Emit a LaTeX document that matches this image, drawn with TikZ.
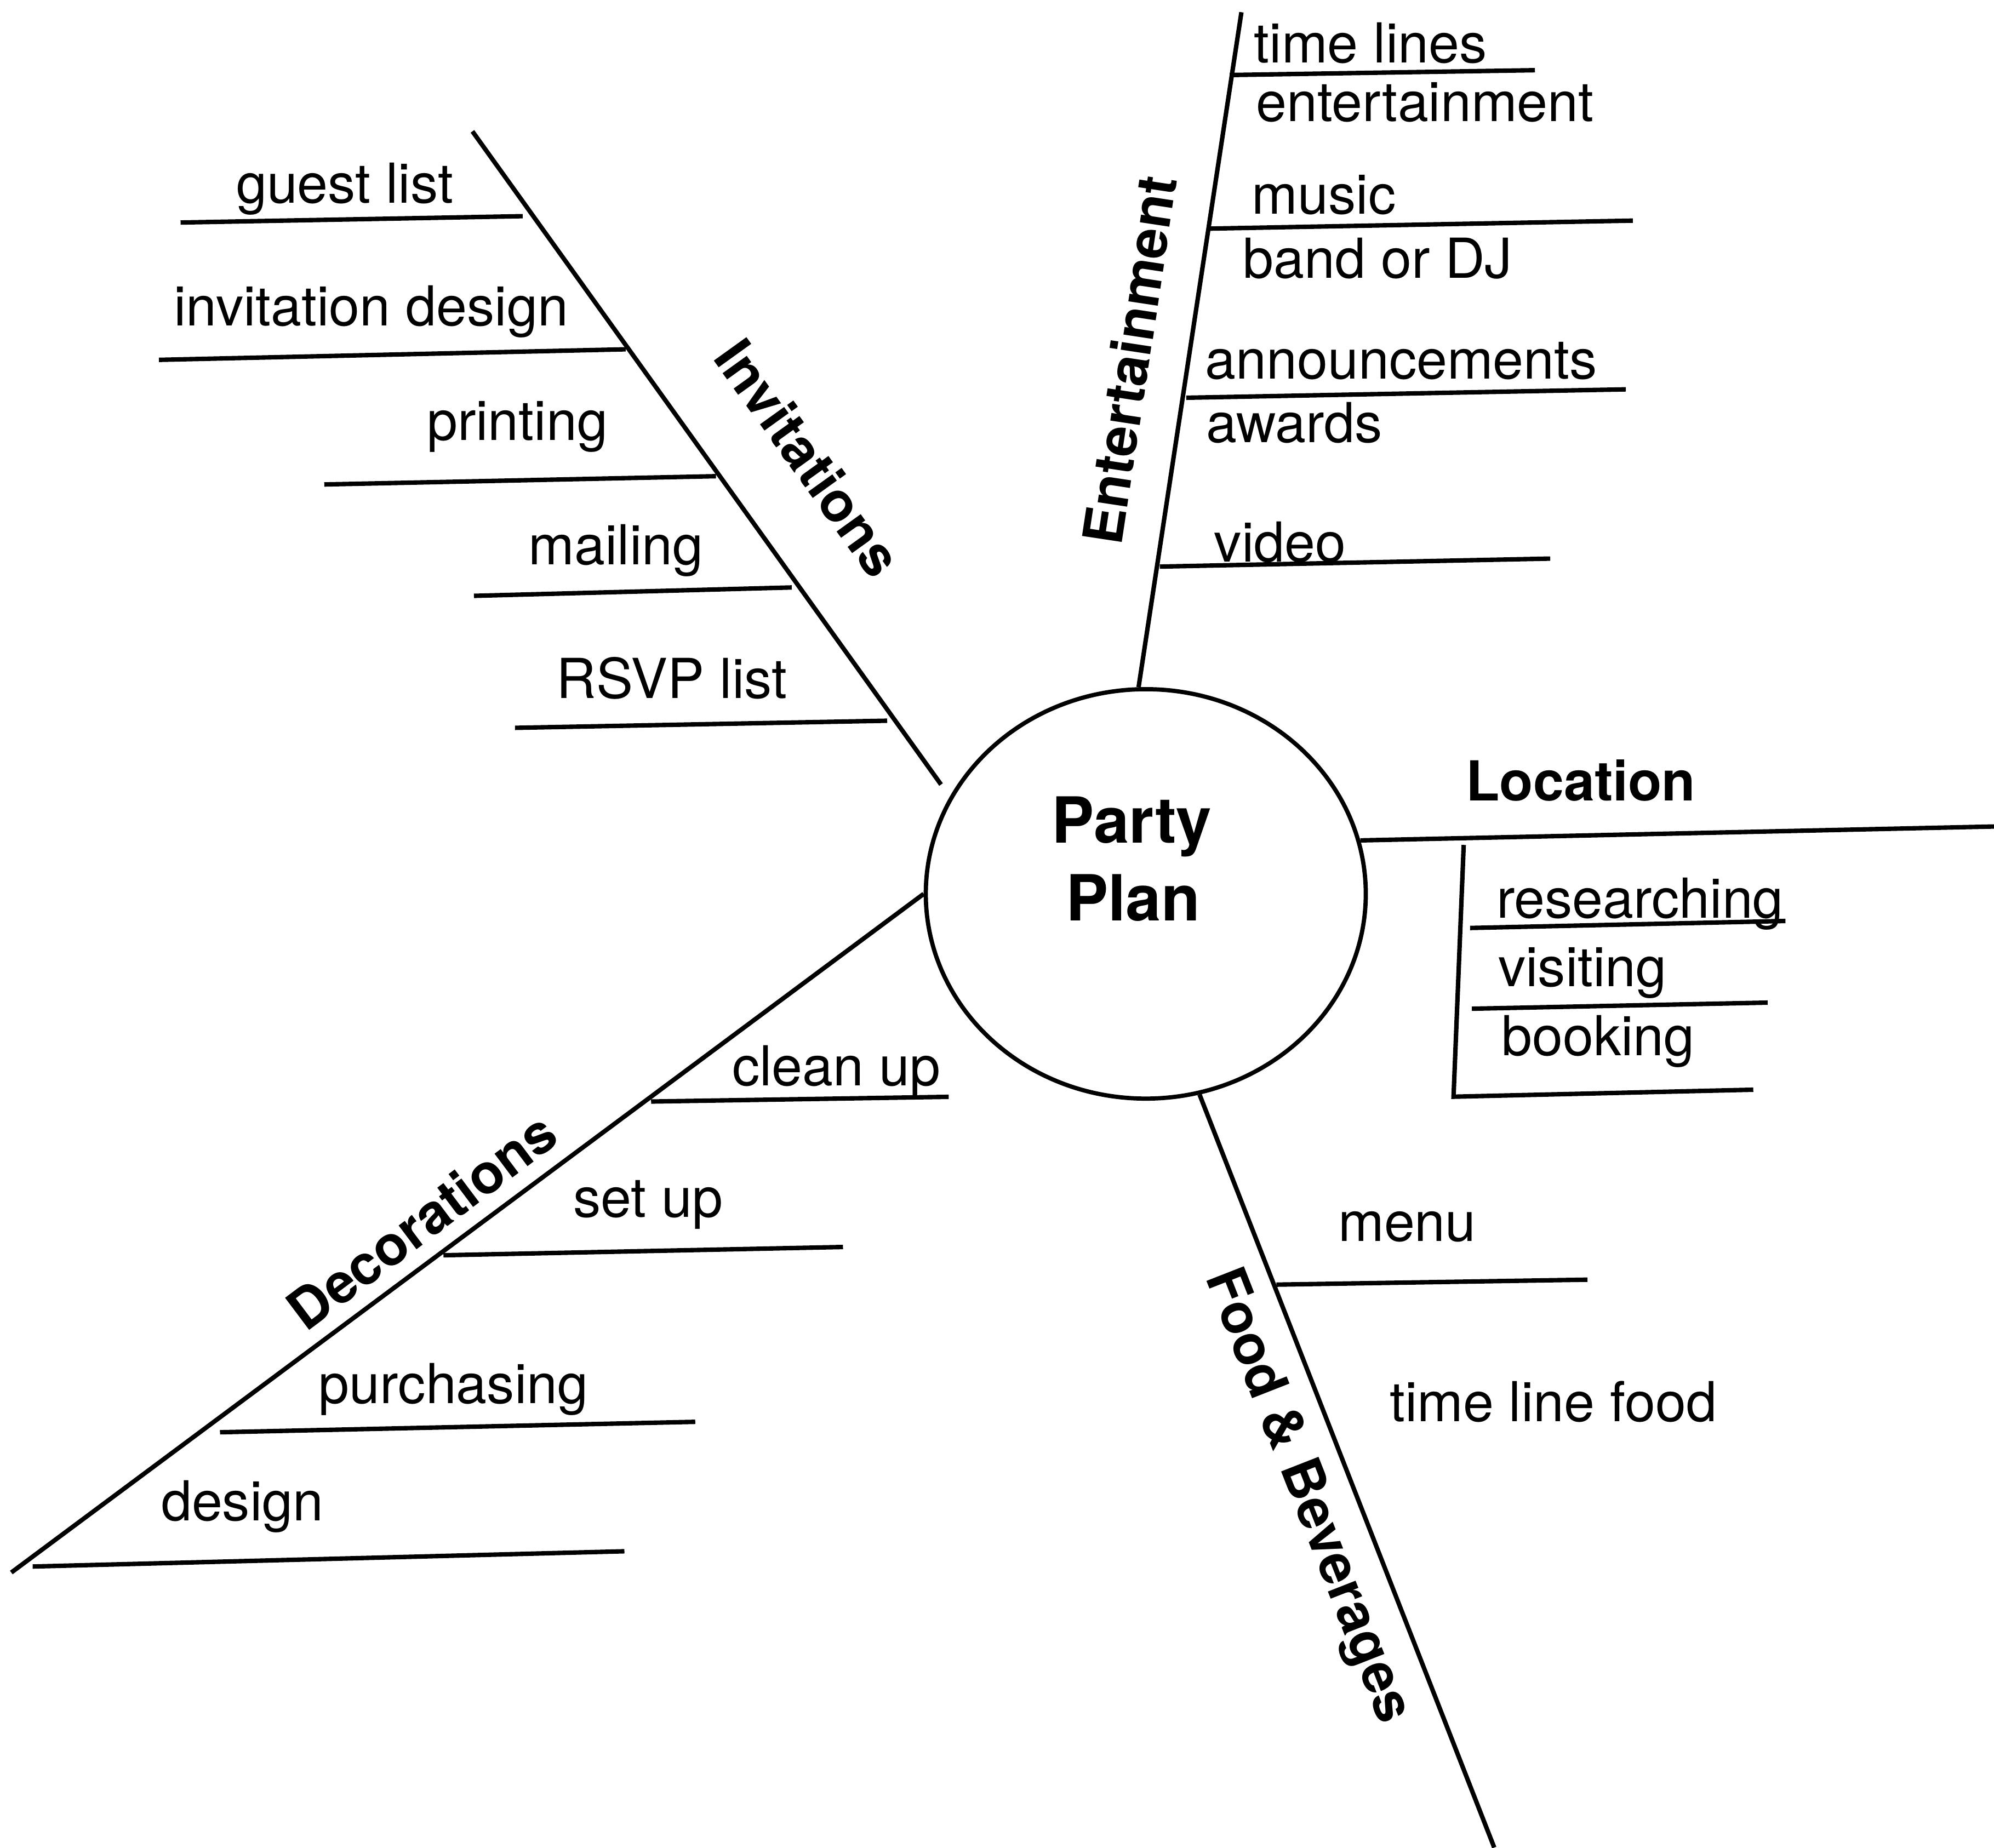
\documentclass[tikz,border=0pt]{standalone}
\usepackage{fontspec}
\setmainfont{TeX Gyre Heros}
\usetikzlibrary{shapes.geometric}

\begin{document}
\begin{tikzpicture}[x=0.3pt,y=-0.3pt,
  line width=1.05pt,
  item/.style={anchor=base west, inner sep=0pt, font=\fontsize{13}{15}\selectfont},
  topic/.style={inner sep=0pt, font=\bfseries\fontsize{13}{15}\selectfont},
  hubtext/.style={anchor=base, inner sep=0pt, font=\bfseries\fontsize{15}{18}\selectfont},
  hub/.style={ellipse, draw, line width=1pt, inner sep=0pt,
              minimum width=103.8pt, minimum height=96.6pt}
]
\useasboundingbox (0,0) rectangle (1568,1453);

% central hub
\node[hub] (pp) at (901,703) {};
\node[hubtext] (party) at (890,663) {Party};
\node[hubtext] (plan) at (891,724) {Plan};

% ---------- Invitations ----------
\coordinate (inv-top) at (371.5,103.3);
\coordinate (inv-end) at (740,617);
\draw (inv-top) -- (inv-end);
\node[topic, rotate=-54.3] (inv) at (636,360) {Invitations};

\coordinate (i1a) at (142,175);   \coordinate (i1b) at (411,170);
\coordinate (i2a) at (125,283);   \coordinate (i2b) at (492,274.7);
\coordinate (i3a) at (255,381);   \coordinate (i3b) at (563,374.5);
\coordinate (i4a) at (372.7,468.6); \coordinate (i4b) at (622.6,462);
\coordinate (i5a) at (405,572.4); \coordinate (i5b) at (697.6,566.8);
\draw (i1a) -- (i1b);
\draw (i2a) -- (i2b);
\draw (i3a) -- (i3b);
\draw (i4a) -- (i4b);
\draw (i5a) -- (i5b);
\node[item] (guest) at (184,159.5) {guest list};
\node[item] (invdesign) at (135,256) {invitation design};
\node[item] (printing) at (334,346.4) {printing};
\node[item] (mailing) at (414,443.8) {mailing};
\node[item] (rsvp) at (436,549) {RSVP list};

% ---------- Entertainment ----------
\coordinate (ent-top) at (976.2,9.6);
\draw (pp.92) -- (ent-top);
\node[topic, rotate=81.4] (ent) at (888,283) {Entertainment};

\coordinate (e1a) at (967,59);      \coordinate (e1b) at (1207,55.2);
\coordinate (e2a) at (950.6,179.8); \coordinate (e2b) at (1284,173.5);
\coordinate (e3a) at (932.8,312.8); \coordinate (e3b) at (1278.5,306.2);
\coordinate (e4a) at (912,445.6);   \coordinate (e4b) at (1219,439.3);
\draw (e1a) -- (e1b);
\draw (e2a) -- (e2b);
\draw (e3a) -- (e3b);
\draw (e4a) -- (e4b);
\node[item] (timelines) at (984.5,49.5) {time lines};
\node[item] (entertain) at (986,95.3) {entertainment};
\node[item] (music) at (982.7,168.2) {music};
\node[item] (band) at (975.8,218.5) {band or DJ};
\node[item] (announce) at (946,298) {announcements};
\node[item] (awards) at (947,348) {awards};
\node[item] (video) at (953,442) {video};

% ---------- Location ----------
\coordinate (loc-end) at (1568,650);
\draw (pp.14) -- (loc-end);
\node[topic, anchor=base west] (loc) at (1151,629.8) {Location};

\coordinate (l-top) at (1151,664.5);
\coordinate (l-corner) at (1143,862.5);
\coordinate (l-end) at (1378.7,857);
\draw (l-top) -- (l-corner) -- (l-end);
\coordinate (l1a) at (1156,729.8);   \coordinate (l1b) at (1404,724.3);
\coordinate (l2a) at (1157.4,793.3); \coordinate (l2b) at (1390,788.5);
\draw (l1a) -- (l1b);
\draw (l2a) -- (l2b);
\node[item] (research) at (1175,722) {researching};
\node[item] (visiting) at (1176.4,776) {visiting};
\node[item] (booking) at (1179,829.9) {booking};

% ---------- Food & Beverages ----------
\coordinate (food-end) at (1175,1453);
\draw (pp.-75) -- (food-end);
\node[topic, rotate=-68.6] (food) at (1027,1177) {Food \& Beverages};

\coordinate (f1a) at (1003.7,1010.3); \coordinate (f1b) at (1248.3,1006.4);
\draw (f1a) -- (f1b);
\node[item] (menu) at (1050.6,976.3) {menu};
\node[item] (tlfood) at (1091,1117.8) {time line food};

% ---------- Decorations ----------
\coordinate (dec-end) at (8.9,1236.7);
\draw (pp.180) -- (dec-end);
\node[topic, rotate=36.9] (dec) at (331.5,960) {Decorations};

\coordinate (d1a) at (512,866.3);    \coordinate (d1b) at (746,862.6);
\coordinate (d2a) at (348.7,987.2);  \coordinate (d2b) at (662.9,980.7);
\coordinate (d3a) at (173,1126.4);   \coordinate (d3b) at (546.7,1118.2);
\coordinate (d4a) at (25.7,1232);    \coordinate (d4b) at (491,1220);
\draw (d1a) -- (d1b);
\draw (d2a) -- (d2b);
\draw (d3a) -- (d3b);
\draw (d4a) -- (d4b);
\node[item] (cleanup) at (574,853.6) {clean up};
\node[item] (setup) at (449,957) {set up};
\node[item] (purchasing) at (249,1103.5) {purchasing};
\node[item] (design) at (125,1196) {design};

\end{tikzpicture}
\end{document}
